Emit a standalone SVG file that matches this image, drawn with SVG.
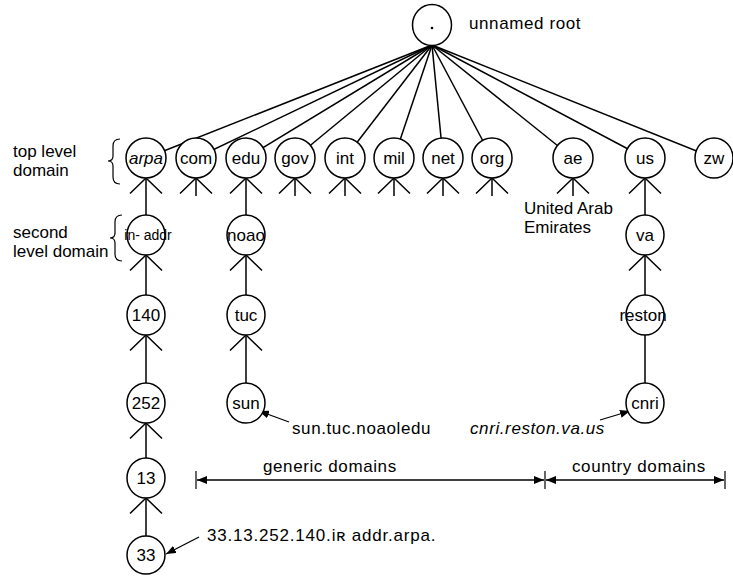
<svg xmlns="http://www.w3.org/2000/svg" width="733" height="578" viewBox="0 0 733 578">
  <style>
    text { font-family: "Liberation Sans", Arial, sans-serif; font-size: 17px; fill: #000; }
    .node ellipse { fill: #fff; stroke: #000; stroke-width: 1.5; }
    .node text { text-anchor: middle; }
    .edge { stroke: #000; stroke-width: 1.5; fill: none; }
    .up { marker-end: url(#fan); }
    .dim { stroke: #000; stroke-width: 1.3; fill: none; marker-start: url(#tip); marker-end: url(#tip); }
    .ptr { stroke: #000; stroke-width: 1.3; fill: none; marker-end: url(#tip); }
    .tick { stroke: #000; stroke-width: 1.2; }
    .brace { stroke: #000; stroke-width: 1.2; fill: none; }
    .it { font-style: italic; }
    .wide { letter-spacing: 0.6px; }
  </style>
  <defs>
    <!-- open "crow's foot" head drawn where a child edge meets its parent -->
    <marker id="fan" markerUnits="userSpaceOnUse" viewBox="-20 -20 40 40" markerWidth="40" markerHeight="40" refX="0" refY="0" orient="auto" overflow="visible">
      <path d="M-15.5,-16 L0,0 L-15.5,16" fill="none" stroke="#000" stroke-width="1.5"/>
    </marker>
    <!-- small solid arrow tip -->
    <marker id="tip" markerUnits="userSpaceOnUse" viewBox="0 0 10 8" markerWidth="10" markerHeight="8" refX="10" refY="4" orient="auto-start-reverse">
      <path d="M0,0 L10,4 L0,8 z" fill="#000"/>
    </marker>
  </defs>

  <!-- connectors -->
  <g id="connectors">
    <!-- root to top level domains -->
    <line class="edge" x1="432" y1="45" x2="146" y2="158"/>
    <line class="edge" x1="432" y1="45" x2="196" y2="158"/>
    <line class="edge" x1="432" y1="45" x2="246" y2="158"/>
    <line class="edge" x1="432" y1="45" x2="295" y2="158"/>
    <line class="edge" x1="432" y1="45" x2="345" y2="158"/>
    <line class="edge" x1="432" y1="45" x2="394" y2="158"/>
    <line class="edge" x1="432" y1="45" x2="443" y2="158"/>
    <line class="edge" x1="432" y1="45" x2="492" y2="158"/>
    <line class="edge" x1="432" y1="45" x2="573" y2="158"/>
    <line class="edge" x1="432" y1="45" x2="645" y2="158"/>
    <line class="edge" x1="432" y1="45" x2="714" y2="158"/>
    <!-- stubs under top level domains -->
    <line class="edge up" x1="196" y1="196" x2="196" y2="178"/>
    <line class="edge up" x1="295" y1="196" x2="295" y2="178"/>
    <line class="edge up" x1="345" y1="196" x2="345" y2="178"/>
    <line class="edge up" x1="394" y1="196" x2="394" y2="178"/>
    <line class="edge up" x1="443" y1="196" x2="443" y2="178"/>
    <line class="edge up" x1="492" y1="196" x2="492" y2="178"/>
    <line class="edge up" x1="573" y1="196" x2="573" y2="178"/>
    <!-- arpa branch -->
    <line class="edge up" x1="146" y1="215" x2="146" y2="178"/>
    <line class="edge up" x1="146" y1="295" x2="146" y2="255"/>
    <line class="edge up" x1="146" y1="383" x2="146" y2="335"/>
    <line class="edge up" x1="146" y1="458" x2="146" y2="423"/>
    <line class="edge up" x1="146" y1="536" x2="146" y2="498"/>
    <!-- edu branch -->
    <line class="edge up" x1="246" y1="215" x2="246" y2="178"/>
    <line class="edge up" x1="246" y1="295" x2="246" y2="255"/>
    <line class="edge up" x1="246" y1="383" x2="246" y2="335"/>
    <!-- us branch -->
    <line class="edge up" x1="645" y1="215" x2="645" y2="178"/>
    <line class="edge up" x1="645" y1="295" x2="645" y2="255"/>
    <line class="edge" x1="645" y1="383" x2="645" y2="335"/>
    <!-- name pointers -->
    <line class="ptr" x1="289" y1="422" x2="259" y2="411"/>
    <line class="ptr" x1="600" y1="420" x2="630" y2="411"/>
    <line class="ptr" x1="199" y1="537" x2="166" y2="554"/>
  </g>

  <!-- root -->
  <g id="root" class="node">
    <ellipse cx="432" cy="25" rx="19.5" ry="20.5"/>
    <circle cx="432" cy="28" r="1.3" fill="#000"/>
  </g>
  <text x="469" y="29" class="wide">unnamed root</text>

  <!-- top level domains -->
  <g id="arpa" class="node"><ellipse cx="146" cy="158" rx="20" ry="20"/><text class="it" x="146" y="164">arpa</text></g>
  <g id="com" class="node"><ellipse cx="196" cy="158" rx="20" ry="20"/><text x="196" y="164">com</text></g>
  <g id="edu" class="node"><ellipse cx="246" cy="158" rx="20" ry="20"/><text x="246" y="164">edu</text></g>
  <g id="gov" class="node"><ellipse cx="295" cy="158" rx="20" ry="20"/><text x="295" y="164">gov</text></g>
  <g id="int" class="node"><ellipse cx="345" cy="158" rx="20" ry="20"/><text x="345" y="164">int</text></g>
  <g id="mil" class="node"><ellipse cx="394" cy="158" rx="20" ry="20"/><text x="394" y="164">mil</text></g>
  <g id="net" class="node"><ellipse cx="443" cy="158" rx="20" ry="20"/><text x="443" y="164">net</text></g>
  <g id="org" class="node"><ellipse cx="492" cy="158" rx="20" ry="20"/><text x="492" y="164">org</text></g>
  <g id="ae" class="node"><ellipse cx="573" cy="158" rx="20" ry="20"/><text x="573" y="164">ae</text></g>
  <g id="us" class="node"><ellipse cx="645" cy="158" rx="20" ry="20"/><text x="645" y="164">us</text></g>
  <g id="zw" class="node"><ellipse cx="714" cy="158" rx="19" ry="20"/><text x="714" y="164">zw</text></g>

  <!-- lower levels -->
  <g id="in-addr" class="node"><ellipse cx="146" cy="235" rx="19" ry="20"/><text x="148" y="240" style="font-size:14px">in- addr</text></g>
  <g id="n140" class="node"><ellipse cx="146" cy="315" rx="19" ry="20"/><text x="146" y="321">140</text></g>
  <g id="n252" class="node"><ellipse cx="146" cy="403" rx="19" ry="20"/><text x="146" y="409">252</text></g>
  <g id="n13" class="node"><ellipse cx="146" cy="478" rx="19" ry="20"/><text x="146" y="484">13</text></g>
  <g id="n33" class="node"><ellipse cx="146" cy="555" rx="19" ry="19"/><text x="146" y="561">33</text></g>

  <g id="noao" class="node"><ellipse cx="246" cy="235" rx="19" ry="20"/><text x="246" y="241">noao</text></g>
  <g id="tuc" class="node"><ellipse cx="246" cy="315" rx="19" ry="20"/><text x="246" y="321">tuc</text></g>
  <g id="sun" class="node"><ellipse cx="246" cy="403" rx="19" ry="20"/><text x="246" y="409">sun</text></g>

  <g id="va" class="node"><ellipse cx="645" cy="235" rx="19" ry="20"/><text x="645" y="241">va</text></g>
  <g id="reston" class="node"><ellipse cx="645" cy="315" rx="19" ry="20"/><text x="643" y="321">reston</text></g>
  <g id="cnri" class="node"><ellipse cx="645" cy="403" rx="19" ry="20"/><text x="645" y="409">cnri</text></g>

  <!-- level captions with braces -->
  <text x="13" y="157">top level</text>
  <text x="13" y="176">domain</text>
  <path class="brace" d="M120,139 Q113,139 113,146 L113,156 Q113,161 108,161 Q113,161 113,166 L113,177 Q113,184 120,184"/>
  <text x="13" y="238">second</text>
  <text x="13" y="257">level domain</text>
  <path class="brace" d="M122,215 Q115,215 115,222 L115,233 Q115,238 110,238 Q115,238 115,243 L115,254 Q115,261 122,261"/>

  <text x="524" y="214">United Arab</text>
  <text x="524" y="233">Emirates</text>

  <!-- full names -->
  <text x="292" y="434" class="wide">sun.tuc.noaoledu</text>
  <text class="it wide" x="470" y="434">cnri.reston.va.us</text>
  <text x="207" y="541" style="letter-spacing:0.8px">33.13.252.140.iʀ addr.arpa.</text>

  <!-- domain ranges -->
  <g id="ranges">
    <line class="tick" x1="196" y1="471" x2="196" y2="489"/>
    <line class="tick" x1="545" y1="471" x2="545" y2="489"/>
    <line class="tick" x1="725" y1="471" x2="725" y2="489"/>
    <line class="dim" x1="197" y1="480" x2="544" y2="480"/>
    <line class="dim" x1="546" y1="480" x2="724" y2="480"/>
    <text x="263" y="472" class="wide">generic domains</text>
    <text x="572" y="472" class="wide">country domains</text>
  </g>
</svg>
